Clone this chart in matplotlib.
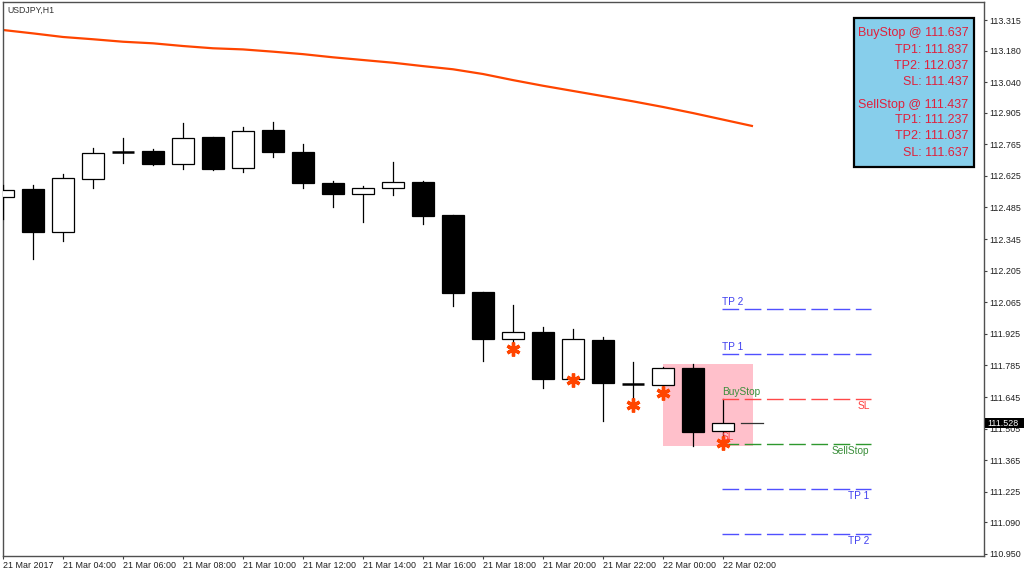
import matplotlib
matplotlib.use('Agg')
import matplotlib.pyplot as plt
from matplotlib.patches import Rectangle
import numpy as np

# ---------------- data ----------------
symbol_title = "USDJPY,H1"

opens = [112.530, 112.568, 112.375, 112.612, 112.732, 112.735, 112.679, 112.795, 112.658, 112.828,
         112.730, 112.593, 112.546, 112.570, 112.598, 112.451, 112.109, 111.902, 111.933, 111.727,
         111.897, 111.703, 111.699, 111.775, 111.493]
highs = [112.584, 112.584, 112.633, 112.748, 112.791, 112.744, 112.857, 112.798, 112.841, 112.865,
         112.765, 112.601, 112.581, 112.685, 112.602, 112.452, 112.110, 112.053, 111.954, 111.947,
         111.910, 111.802, 111.778, 111.791, 111.637]
lows = [112.434, 112.258, 112.336, 112.570, 112.682, 112.674, 112.654, 112.652, 112.640, 112.707,
        112.572, 112.486, 112.419, 112.540, 112.410, 112.048, 111.806, 111.867, 111.684, 111.721,
        111.539, 111.607, 111.672, 111.428, 111.437]
closes = [112.562, 112.375, 112.614, 112.726, 112.732, 112.679, 112.794, 112.654, 112.822, 112.729,
          112.592, 112.544, 112.572, 112.598, 112.446, 112.106, 111.902, 111.935, 111.724, 111.901,
          111.707, 111.703, 111.775, 111.492, 111.528]

ma_index = list(range(-1, 26))
ma_values = [113.285, 113.271, 113.256, 113.240, 113.230, 113.219, 113.212, 113.200, 113.190, 113.185,
             113.175, 113.164, 113.150, 113.138, 113.126, 113.111, 113.097, 113.076, 113.049, 113.024,
             113.001, 112.978, 112.955, 112.930, 112.903, 112.874, 112.845]

star_index = [17, 19, 21, 22, 24]
star_price = [111.857, 111.721, 111.610, 111.665, 111.440]

box_bars = [22, 25]
box_prices = [111.430, 111.792]

buy_names = ["TP 2", "TP 1", "BuyStop", "SL"]
buy_levels = [112.037, 111.837, 111.637, 111.437]
sell_names = ["SellStop", "TP 1", "TP 2", "SL"]
sell_levels = [111.437, 111.237, 111.037, 111.637]
level_bars = [23.96, 28.93]

current_price = 111.528

info_lines_buy = ["BuyStop @ 111.637", "TP1: 111.837", "TP2: 112.037", "SL: 111.437"]
info_lines_sell = ["SellStop @ 111.437", "TP1: 111.237", "TP2: 111.037", "SL: 111.637"]

y_tick_values = [113.315, 113.180, 113.040, 112.905, 112.765, 112.625, 112.485, 112.345, 112.205,
                 112.065, 111.925, 111.785, 111.645, 111.505, 111.365, 111.225, 111.090, 110.950]
x_tick_index = [0, 2, 4, 6, 8, 10, 12, 14, 16, 18, 20, 22, 24]
x_tick_labels = ["21 Mar 2017", "21 Mar 04:00", "21 Mar 06:00", "21 Mar 08:00", "21 Mar 10:00",
                 "21 Mar 12:00", "21 Mar 14:00", "21 Mar 16:00", "21 Mar 18:00", "21 Mar 20:00",
                 "21 Mar 22:00", "22 Mar 00:00", "22 Mar 02:00"]

# ---------------- figure ----------------
W, H = 1024, 576
small_font = ['Liberation Sans Narrow', 'Liberation Sans', 'DejaVu Sans']
plt.rcParams['font.family'] = ['Liberation Sans', 'DejaVu Sans']

fig = plt.figure(figsize=(W / 100, H / 100), dpi=100)
fig.patch.set_facecolor('white')
ax = fig.add_axes([2.5 / W, 20 / H, (984 - 2.5) / W, (556 - 2) / H])
ax.set_xlim(-0.0167, 32.7)
ax.set_ylim(110.941, 113.395)

# pink box
ax.add_patch(Rectangle((box_bars[0], box_prices[0]), box_bars[1] - box_bars[0],
                       box_prices[1] - box_prices[0], facecolor='#FFC0CB', edgecolor='none', zorder=1))

# moving average
ax.plot(ma_index, ma_values, color='#FF4500', lw=1.6, zorder=2, solid_capstyle='butt')

# candles
half = 0.383
for i, (o, h, l, c) in enumerate(zip(opens, highs, lows, closes)):
    ax.plot([i, i], [l, h], color='black', lw=0.9, zorder=3)
    if abs(c - o) < 0.003:
        ax.plot([i - half, i + half], [o, o], color='black', lw=1.8, zorder=4, solid_capstyle='butt')
    else:
        face = 'white' if c > o else 'black'
        ax.add_patch(Rectangle((i - half, min(o, c)), 2 * half, abs(c - o),
                               facecolor=face, edgecolor='black', lw=0.9, zorder=4))

# current price short line
ax.plot([24.59, 25.34], [current_price, current_price], color='#333333', lw=0.9, zorder=4)

# stars
ax.plot(star_index, star_price, linestyle='none', marker=(6, 2, 0), ms=10, mew=2.4,
        color='#FF4500', zorder=6)

# level lines (sell lines drawn over buy lines at shared prices)
dash = (0, (12, 4))
col_blue, col_red, col_green = '#5050FF', '#FF4848', '#2E982E'
buy_colors = [col_blue, col_blue, col_green, col_red]
sell_colors = [col_green, col_blue, col_blue, col_red]
buy_text_colors = ['#4040F0', '#4040F0', '#3A8E3A', '#FF3C3C']
sell_text_colors = ['#3A8E3A', '#4040F0', '#4040F0', '#FF3C3C']
for name, lev, col, tcol in zip(buy_names, buy_levels, buy_colors, buy_text_colors):
    if lev not in sell_levels:
        ax.plot(level_bars, [lev, lev], color=col, lw=1.0, linestyle=dash, zorder=5)
    ax.annotate(name, xy=(level_bars[0], lev), xytext=(0, 1.2), textcoords='offset points',
                ha='left', va='bottom', fontsize=7.3, color=tcol, zorder=7)
for name, lev, col, tcol in zip(sell_names, sell_levels, sell_colors, sell_text_colors):
    ax.plot(level_bars, [lev, lev], color=col, lw=1.0, linestyle=dash, zorder=5)
    ax.annotate(name, xy=(level_bars[1], lev), xytext=(-1, -1.5), textcoords='offset points',
                ha='right', va='top', fontsize=7.3, color=tcol, zorder=7)

# axes styling
for s in ax.spines.values():
    s.set_color('#505050')
    s.set_linewidth(1.0)
ax.yaxis.tick_right()
ax.set_yticks(y_tick_values)
ax.set_yticklabels([f"{v:.3f}" for v in y_tick_values])
ax.set_xticks(x_tick_index)
ax.set_xticklabels(x_tick_labels)
ax.tick_params(axis='both', direction='out', length=2.3, width=0.8, color='#404040',
               labelsize=6.4, labelcolor='#202020', pad=1.5)
for lbl in ax.get_xticklabels():
    lbl.set_ha('left')
    lbl.set_family(small_font)
for lbl in ax.get_yticklabels():
    lbl.set_family(small_font)

# title
fig.text(7 / W, 1 - 10 / H, symbol_title, fontsize=6.3, va='center', ha='left', color='#333333')

# info box
fig.patches.append(Rectangle((853.5 / W, 1 - 166.5 / H), (974 - 853.5) / W, (166.5 - 17.5) / H,
                             transform=fig.transFigure, facecolor='#87CEEB', edgecolor='black',
                             lw=1.6, zorder=8))
info_y = [33.3, 50, 65.7, 81.7, 105, 120.3, 136.3, 152.7]
for txt, yy in zip(info_lines_buy + info_lines_sell, info_y):
    fig.text(968.5 / W, 1 - yy / H, txt, fontsize=9, ha='right', va='center',
             color='#E0203C', zorder=9)

# current price label
fig.patches.append(Rectangle((985 / W, 1 - 428 / H), 40 / W, 10.5 / H, transform=fig.transFigure,
                             facecolor='black', edgecolor='none', zorder=10))
fig.text(987 / W, 1 - 423 / H, f"{current_price:.3f}", fontsize=6.4, ha='left', va='center',
         color='white', family=small_font, zorder=11)

fig.savefig('out.png', dpi=100)
